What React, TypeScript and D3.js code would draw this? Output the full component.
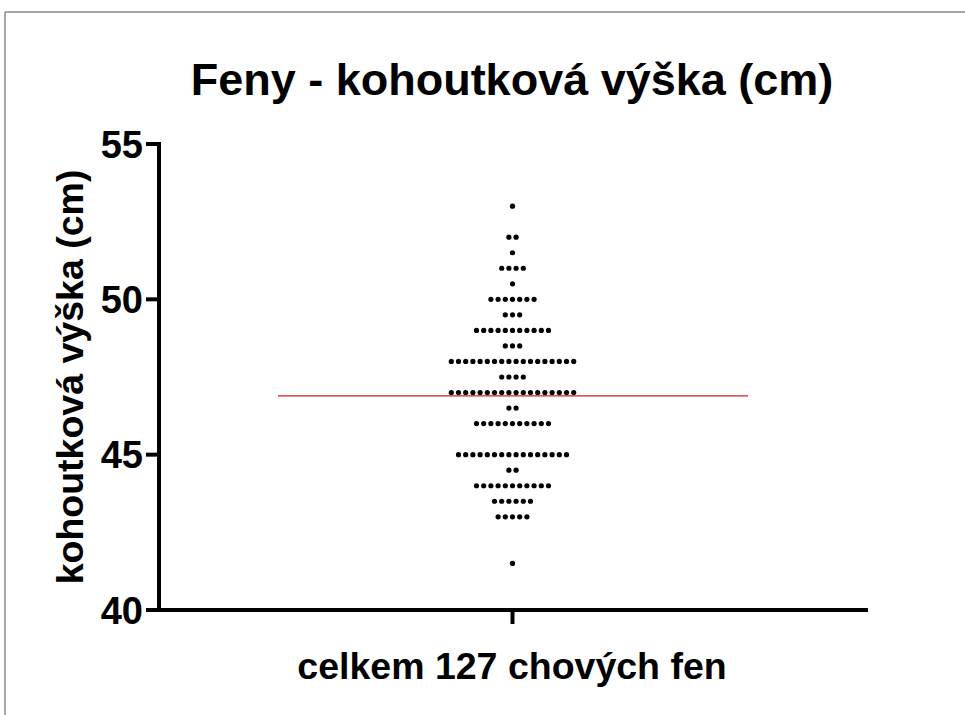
import React from "react";
import * as d3 from "d3";

const title = "Feny - kohoutková výška (cm)";
const yAxisTitle = "kohoutková výška (cm)";
const xCategory = "celkem 127 chových fen";
const yTicks = [40, 45, 50, 55];
// heights (cm) and number of dogs at each height
const heights = [53, 52, 51.5, 51, 50.5, 50, 49.5, 49, 48.5, 48, 47.5, 47, 46.5, 46, 45, 44.5, 44, 43.5, 43, 41.5];
const counts = [1, 2, 1, 4, 1, 7, 3, 11, 3, 18, 4, 18, 2, 11, 16, 2, 11, 6, 5, 1];

const W = 965;
const H = 715;
const axisX = 159;
const axisRight = 868;
const centerX = 512.5;
const dotStep = 7.2;

export default function App() {
  const y = d3.scaleLinear().domain([40, 55]).range([610, 144]);
  const points: { x: number; y: number }[] = [];
  heights.forEach((h, i) => {
    const n = counts[i];
    for (let k = 0; k < n; k++) {
      points.push({ x: centerX + (k - (n - 1) / 2) * dotStep, y: y(h) });
    }
  });
  const total = d3.sum(counts);
  const mean = d3.sum(heights.map((h, i) => h * counts[i])) / total;
  const font = "'Liberation Sans', Arial, sans-serif";
  return (
    <svg width={W} height={H} style={{ position: "absolute", left: 0, top: 0, background: "#fff" }}>
      <rect x={0} y={0} width={W} height={H} fill="#fff" />
      <line x1={5} y1={12} x2={W} y2={12} stroke="#8a8a8a" strokeWidth={1.5} />
      <line x1={5} y1={12} x2={5} y2={H} stroke="#8a8a8a" strokeWidth={1.5} />
      <text x={512} y={95} textAnchor="middle" fontFamily={font} fontWeight="bold" fontSize={45} fill="#000">
        {title}
      </text>
      {/* y axis */}
      <line x1={axisX} y1={y(55) - 2} x2={axisX} y2={y(40) + 2} stroke="#000" strokeWidth={4} />
      {yTicks.map((t) => (
        <g key={t}>
          <line x1={axisX - 13} y1={y(t)} x2={axisX} y2={y(t)} stroke="#000" strokeWidth={4} />
          <text x={143} y={y(t) + 13.5} textAnchor="end" fontFamily={font} fontWeight="bold" fontSize={38} fill="#000">
            {t}
          </text>
        </g>
      ))}
      {/* x axis */}
      <line x1={axisX - 2} y1={y(40)} x2={axisRight} y2={y(40)} stroke="#000" strokeWidth={4} />
      <line x1={centerX} y1={y(40)} x2={centerX} y2={y(40) + 14} stroke="#000" strokeWidth={4} />
      <text x={512} y={679} textAnchor="middle" fontFamily={font} fontWeight="bold" fontSize={37.5} fill="#000">
        {xCategory}
      </text>
      <text
        transform={`translate(83, 377) rotate(-90)`}
        textAnchor="middle"
        fontFamily={font}
        fontWeight="bold"
        fontSize={37.5}
        fill="#000"
      >
        {yAxisTitle}
      </text>
      {/* mean line */}
      <line x1={278} y1={y(mean)} x2={748} y2={y(mean)} stroke="#d42020" strokeWidth={1.2} />
      {points.map((p, i) => (
        <circle key={i} cx={p.x} cy={p.y} r={2.6} fill="#000" />
      ))}
    </svg>
  );
}
